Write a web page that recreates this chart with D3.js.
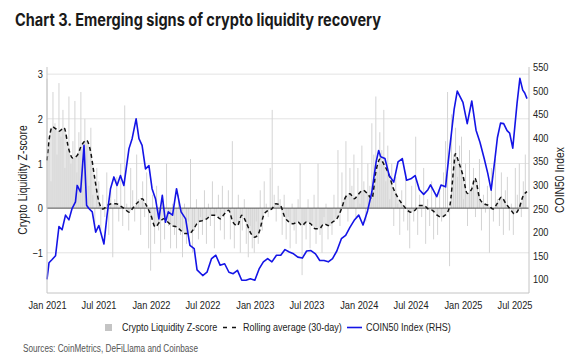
<!DOCTYPE html>
<html>
<head>
<meta charset="utf-8">
<script src="https://cdn.jsdelivr.net/npm/d3@7"></script>
<style>
  body { margin: 0; background: #fff; }
  svg text { font-family: "Liberation Sans", Arial, sans-serif; }
</style>
</head>
<body>
<div id="chart"></div>
<script>
// weekly crypto liquidity z-score, first week starts 2021-01-01
var zStart = "2021-01-01";
var zValues = [
  2.9, 1.4, 0.6, 2.6, 1.9, 1.2, 2.8, 1.6, 2.2, 0.9, 1.3, 2.5, 1.0,
  1.5, 2.4, 0.8, 1.7, 2.6, 1.1, 2.0, 1.4, 0.5, 1.8, 0.3, -0.4, 0.9,
  0.6, -0.5, 0.3, -0.2, 0.8, -0.6, 0.4, -1.1, 0.2, 0.7, -0.3, 1.0, -0.4,
  2.3, 0.1, -0.5, 0.9, 0.4, -0.3, 1.2, 0.2, -0.6, 0.6, -0.2, 0.8, -0.9,
  -1.4, 0.3, -0.8, 0.5, -0.5, -1.0, 0.2, -0.7, 1.0, -0.4, -0.9, 0.1, -0.6,
  -0.9, 0.3, -0.6, -1.1, 0.1, -0.8, -0.3, 1.1, -1.0, -0.5, 0.2, -0.7, -0.2,
  -0.6, 0.4, -0.8, 0.1, -0.4, 0.6, -0.9, -0.1, 0.3, -0.5, 0.5, -0.7, 0.0,
  0.4, -0.7, 1.5, -0.9, -0.3, 0.3, -1.0, -0.5, 0.2, -0.8, -1.1, -0.4, -0.9,
  -1.0, -0.3, -0.8, 0.4, -0.5, 0.6, 0.1, -0.2, 0.9, 2.2, 0.3, -0.3, 0.5,
  0.2, -0.6, 0.3, -0.7, -0.2, -0.9, 0.1, -0.5, -0.8, 0.2, 1.0, -1.5, -0.4,
  -0.7, 0.2, -0.9, -0.3, 0.3, -0.8, 1.0, -0.6, -1.0, -0.2, 0.1, -0.7, -0.4,
  -0.6, 0.3, -0.2, 1.3, -0.4, 0.8, 0.2, 1.5, -0.3, 0.9, 0.5, 1.2, -0.2,
  0.9, 0.1, 1.4, 0.6, -0.3, 1.0, 0.5, 1.9, 1.2, 2.5, 0.8, 1.7, 1.3,
  2.2, 0.6, 1.4, 0.2, 1.0, -0.4, 0.7, 0.1, -0.6, 0.4, -0.3, 0.8, -0.5,
  -0.9, 0.5, -0.3, 1.6, -0.6, 0.3, -0.2, 0.9, -0.8, 0.2, -0.4, 0.6, -0.7,
  0.3, -0.6, 0.4, -0.3, 0.8, 1.5, 2.6, -1.3, 2.1, 1.2, 1.8, 0.7, 1.4,
  1.6, 0.2, 1.0, -0.4, 1.3, 0.5, 0.9, -0.2, 0.6, 1.1, -0.5, 0.3, -0.1,
  0.5, -1.0, 0.9, -0.3, 1.1, 0.2, -0.4, 0.8, -0.6, 0.4, 0.7, -0.5, 0.1,
  -0.6, 0.9, 0.3, 1.0, -0.2, 0.6, 1.2
];

// rolling average (30-day)
var avgDates = ["2021-01-01","2021-01-10","2021-01-20","2021-01-31","2021-02-12","2021-03-02","2021-03-18","2021-04-01","2021-04-17","2021-05-02","2021-05-20","2021-06-01","2021-06-17","2021-07-02","2021-07-17","2021-08-01","2021-08-17","2021-09-01","2021-09-16","2021-10-01","2021-10-16","2021-11-01","2021-11-16","2021-12-01","2021-12-16",
  "2022-01-01","2022-01-16","2022-02-01","2022-02-15","2022-03-01","2022-03-16","2022-04-01","2022-04-16","2022-05-01","2022-05-16","2022-06-01","2022-06-16","2022-07-01","2022-07-16","2022-08-01","2022-08-16","2022-09-01","2022-09-16","2022-10-01","2022-10-16","2022-11-01","2022-11-16","2022-12-01","2022-12-16",
  "2023-01-01","2023-01-16","2023-02-01","2023-02-16","2023-03-01","2023-03-16","2023-04-01","2023-04-16","2023-05-01","2023-05-16","2023-06-01","2023-06-16","2023-07-01","2023-07-16","2023-08-01","2023-08-16","2023-09-01","2023-09-16","2023-10-01","2023-10-16","2023-11-01","2023-11-16","2023-12-01","2023-12-16",
  "2024-01-01","2024-01-16","2024-02-01","2024-02-16","2024-03-01","2024-03-16","2024-04-01","2024-04-16","2024-05-01","2024-05-16","2024-06-01","2024-06-16","2024-07-01","2024-07-16","2024-08-01","2024-08-16","2024-09-01","2024-09-16","2024-10-01","2024-10-16","2024-11-01","2024-11-16","2024-12-01","2024-12-05","2024-12-16",
  "2025-01-01","2025-01-16","2025-02-01","2025-02-12","2025-03-01","2025-03-16","2025-04-01","2025-04-16","2025-05-01","2025-05-16","2025-06-01","2025-06-16","2025-07-01","2025-07-16","2025-08-01","2025-08-14"];
var avgValues = [1.07, 1.6, 1.82, 1.78, 1.72, 1.8, 1.33, 1.12, 1.18, 1.4, 1.52, 1.33, 0.7, 0.15, -0.02, 0.06, 0.1, 0.1, 0.05, -0.02, -0.09, 0.02, 0.13, 0.21, 0.06,
  -0.16, -0.42, -0.31, -0.24, -0.31, -0.39, -0.42, -0.5, -0.57, -0.57, -0.46, -0.31, -0.28, -0.24, -0.16, -0.16, -0.24, -0.13, -0.05, -0.31, -0.39, -0.16, -0.31, -0.54,
  -0.65, -0.54, -0.16, -0.05, -0.02, 0.1, 0.06, -0.2, -0.31, -0.35, -0.31, -0.39, -0.31, -0.35, -0.46, -0.46, -0.35, -0.39, -0.31, -0.24, -0.02, 0.25, 0.32, 0.21,
  0.32, 0.4, 0.32, 0.21, 0.81, 1.1, 0.95, 0.75, 0.45, 0.25, 0.1, -0.02, -0.09, -0.05, 0.06, 0.06, -0.02, -0.05, -0.15, -0.2, -0.15, 0.06, 1.0, 1.22, 1.05,
  0.73, 0.33, 0.43, 0.67, 0.21, 0.1, 0.06, -0.02, 0.1, 0.25, 0.1, -0.02, -0.13, -0.02, 0.28, 0.37];

// COIN50 index (right axis)
var coinDates = ["2021-01-01","2021-01-08","2021-01-19","2021-01-31","2021-02-12","2021-02-23","2021-03-07","2021-03-19","2021-03-30","2021-04-11","2021-04-17","2021-04-29","2021-05-11","2021-05-20","2021-05-28","2021-06-09","2021-06-21","2021-07-02","2021-07-20","2021-07-31","2021-08-12","2021-08-24","2021-09-04","2021-09-16","2021-09-28","2021-10-16","2021-10-27","2021-11-10","2021-11-20","2021-12-01","2021-12-13","2021-12-25",
  "2022-01-05","2022-01-17","2022-01-29","2022-02-10","2022-02-21","2022-03-03","2022-03-18","2022-04-01","2022-04-17","2022-05-03","2022-05-18","2022-06-02","2022-06-12","2022-07-02","2022-07-17","2022-08-02","2022-08-17","2022-09-01","2022-09-17","2022-10-02","2022-10-17","2022-11-01","2022-11-16","2022-12-01","2022-12-16",
  "2023-01-01","2023-01-16","2023-01-31","2023-02-15","2023-03-02","2023-03-18","2023-04-02","2023-04-17","2023-05-02","2023-05-17","2023-06-01","2023-06-17","2023-07-02","2023-07-17","2023-08-02","2023-08-17","2023-09-01","2023-09-16","2023-10-01","2023-10-16","2023-11-01","2023-11-16","2023-12-01","2023-12-16",
  "2024-01-01","2024-01-16","2024-02-01","2024-02-16","2024-03-02","2024-03-11","2024-03-18","2024-04-02","2024-04-17","2024-05-03","2024-05-18","2024-06-02","2024-06-17","2024-07-02","2024-07-17","2024-08-01","2024-08-16","2024-08-31","2024-09-09","2024-10-01","2024-10-16","2024-11-01","2024-11-16","2024-12-01","2024-12-12",
  "2025-01-01","2025-01-16","2025-02-01","2025-02-16","2025-03-02","2025-03-17","2025-03-29","2025-04-10","2025-04-23","2025-05-02","2025-05-13","2025-05-24","2025-06-05","2025-06-14","2025-06-25","2025-07-10","2025-07-20","2025-07-30","2025-08-06","2025-08-14"];
var coinValues = [100, 135, 142, 150, 212, 205, 236, 226, 250, 264, 299, 285, 384, 257, 250, 243, 200, 214, 175, 236, 292, 317, 299, 320, 299, 377, 398, 440, 398, 384, 334, 341,
  292, 271, 228, 278, 221, 243, 236, 292, 243, 228, 172, 165, 120, 108, 115, 144, 151, 130, 133, 115, 112, 119, 98, 98, 101,
  98, 122, 137, 144, 137, 151, 151, 163, 158, 154, 147, 145, 160, 161, 154, 140, 140, 137, 144, 160, 186, 193, 210, 225,
  236, 215, 245, 285, 349, 373, 360, 356, 320, 306, 349, 356, 310, 313, 320, 290, 280, 290, 300, 275, 300, 296, 380, 460, 499,
  475, 430, 478, 416, 390, 355, 325, 289, 353, 400, 431, 430, 415, 410, 378, 473, 526, 501, 495, 483];

var leftTicks = [-1, 0, 1, 2, 3];
var rightTicks = [100, 150, 200, 250, 300, 350, 400, 450, 500, 550];
var xTicks = ["2021-01-01","2021-07-01","2022-01-01","2022-07-01","2023-01-01","2023-07-01","2024-01-01","2024-07-01","2025-01-01","2025-07-01"];

var parse = d3.timeParse("%Y-%m-%d");
var x0 = 47, x1 = 529, yTop = 67, yBot = 293;

// the source font is a narrow sans, so squeeze regular text horizontally
function narrow(sel, k) {
  sel.each(function() {
    var w = this.getComputedTextLength();
    d3.select(this)
      .attr("textLength", w * k)
      .attr("lengthAdjust", "spacingAndGlyphs");
  });
}

var svg = d3.select("#chart").append("svg")
  .attr("width", 571)
  .attr("height", 360);

var x = d3.scaleTime()
  .domain([parse("2021-01-01"), parse("2025-08-21")])
  .range([x0, x1]);
var yL = d3.scaleLinear().domain([-1.9, 3.16]).range([yBot, yTop]);
var yR = d3.scaleLinear().domain([71, 550]).range([yBot, yTop]);

// title
svg.append("text")
  .attr("x", 15)
  .attr("y", 26)
  .style("font-family", "Inter, 'Liberation Sans', sans-serif")
  .attr("font-size", 17)
  .attr("font-weight", "bold")
  .attr("fill", "#1a1a1a")
  .attr("textLength", 366)
  .attr("lengthAdjust", "spacingAndGlyphs")
  .text("Chart 3. Emerging signs of crypto liquidity recovery");

// gridlines
svg.append("g").selectAll("line")
  .data(leftTicks.filter(function(d){ return d !== 0; }))
  .enter().append("line")
  .attr("x1", x0).attr("x2", x1)
  .attr("y1", function(d){ return yL(d); })
  .attr("y2", function(d){ return yL(d); })
  .attr("stroke", "#e3e3e3")
  .attr("stroke-width", 1);

// shaded band between zero and the rolling average
var avgData = avgDates.map(function(d, i){ return {date: parse(d), v: avgValues[i]}; });
svg.append("path")
  .datum(avgData)
  .attr("d", d3.area()
    .x(function(d){ return x(d.date); })
    .y0(yL(0))
    .y1(function(d){ return yL(d.v); })
    .curve(d3.curveMonotoneX))
  .attr("fill", "#e6e6e6");

// z-score bars
var zData = zValues.map(function(v, i){ return {date: d3.timeDay.offset(parse(zStart), i * 7), v: v}; });
svg.append("g").selectAll("line")
  .data(zData)
  .enter().append("line")
  .attr("x1", function(d){ return x(d.date); })
  .attr("x2", function(d){ return x(d.date); })
  .attr("y1", yL(0))
  .attr("y2", function(d){ return yL(d.v); })
  .attr("stroke", "#d4d4d4")
  .attr("stroke-width", 1);

// zero line
svg.append("line")
  .attr("x1", x0).attr("x2", x1)
  .attr("y1", yL(0)).attr("y2", yL(0))
  .attr("stroke", "#555")
  .attr("stroke-width", 1);

// rolling average
svg.append("path")
  .datum(avgData)
  .attr("d", d3.line()
    .x(function(d){ return x(d.date); })
    .y(function(d){ return yL(d.v); })
    .curve(d3.curveMonotoneX))
  .attr("fill", "none")
  .attr("stroke", "#111")
  .attr("stroke-width", 1.5)
  .attr("stroke-dasharray", "4,3");

// COIN50
var coinData = coinDates.map(function(d, i){ return {date: parse(d), v: coinValues[i]}; });
svg.append("path")
  .datum(coinData)
  .attr("d", d3.line()
    .x(function(d){ return x(d.date); })
    .y(function(d){ return yR(d.v); }))
  .attr("fill", "none")
  .attr("stroke", "#1414e6")
  .attr("stroke-width", 1.6)
  .attr("stroke-linejoin", "round");

// frame
svg.append("path")
  .attr("d", "M" + x0 + "," + yTop + "V" + yBot + "H" + x1 + "V" + yTop)
  .attr("fill", "none")
  .attr("stroke", "#c4c4c4")
  .attr("stroke-width", 1);

// axes
var axL = svg.append("g")
  .attr("transform", "translate(" + x0 + ",0)")
  .call(d3.axisLeft(yL).tickValues(leftTicks).tickFormat(d3.format("d")).tickSize(0).tickPadding(4));
var axR = svg.append("g")
  .attr("transform", "translate(" + x1 + ",0)")
  .call(d3.axisRight(yR).tickValues(rightTicks).tickSize(0).tickPadding(4));
var axB = svg.append("g")
  .attr("transform", "translate(0," + yBot + ")")
  .call(d3.axisBottom(x).tickValues(xTicks.map(parse)).tickFormat(d3.timeFormat("%b %Y")).tickSize(0).tickPadding(8));

[axL, axR, axB].forEach(function(g){
  g.attr("font-family", null).attr("font-size", null);
  g.select(".domain").remove();
  g.selectAll("text")
    .attr("font-size", 11)
    .attr("fill", "#222")
    .call(narrow, 0.84);
});

// axis titles
svg.append("text")
  .attr("transform", "translate(27,180) rotate(-90)")
  .attr("text-anchor", "middle")
  .attr("font-size", 12.5)
  .attr("fill", "#222")
  .text("Crypto Liquidity Z-score")
  .call(narrow, 0.83);

svg.append("text")
  .attr("transform", "translate(564,180) rotate(-90)")
  .attr("text-anchor", "middle")
  .attr("font-size", 12.5)
  .attr("fill", "#222")
  .text("COIN50 Index")
  .call(narrow, 0.83);

// legend
var lg = svg.append("g");
lg.append("rect")
  .attr("x", 105).attr("y", 324)
  .attr("width", 7).attr("height", 7)
  .attr("fill", "#c4c4c4");
lg.append("line")
  .attr("x1", 223).attr("x2", 238).attr("y1", 327.5).attr("y2", 327.5)
  .attr("stroke", "#111").attr("stroke-width", 1.5).attr("stroke-dasharray", "4,5");
lg.append("line")
  .attr("x1", 347).attr("x2", 362).attr("y1", 327.5).attr("y2", 327.5)
  .attr("stroke", "#1414e6").attr("stroke-width", 1.6);
lg.selectAll("text")
  .data([[122, "Crypto Liquidity Z-score"], [243, "Rolling average (30-day)"], [366, "COIN50 Index (RHS)"]])
  .enter().append("text")
  .attr("x", function(d){ return d[0]; })
  .attr("y", 331)
  .attr("font-size", 11)
  .attr("fill", "#222")
  .text(function(d){ return d[1]; })
  .call(narrow, 0.82);

// source
svg.append("text")
  .attr("x", 23).attr("y", 352)
  .attr("font-size", 10)
  .attr("fill", "#555")
  .text("Sources: CoinMetrics, DeFiLlama and Coinbase")
  .call(narrow, 0.82);
</script>
</body>
</html>
